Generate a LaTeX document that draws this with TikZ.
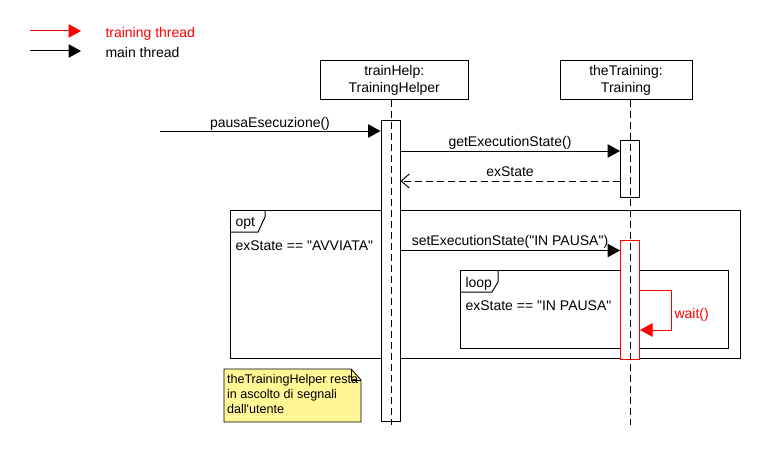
\documentclass[tikz,border=0pt]{standalone}
\usepackage{fontspec}
\setmainfont{Liberation Sans}[Ligatures=TeXOff]
\usetikzlibrary{arrows.meta}
\definecolor{noteyellow}{RGB}{255,247,150}
\begin{document}
\begin{tikzpicture}[x=1pt,y=-1pt,line width=1pt,
  every node/.style={font=\fontsize{14}{17}\selectfont,inner sep=0pt},
  headbox/.style={draw,fill=white,minimum height=39pt,align=center},
  actbar/.style={draw,fill=white,minimum width=19pt,anchor=north},
  framebox/.style={draw,anchor=north west},
  lifeline/.style={dash pattern=on 7pt off 4pt},
  msg/.style={-{Triangle[length=12.5pt,width=13.5pt]}},
  retmsg/.style={dash pattern=on 7pt off 4pt,-{Straight Barb[length=8pt,width=14pt]}},
  lbl/.style={anchor=base},
  lblw/.style={anchor=base west},
  notetext/.style={anchor=north west,align=left,font=\fontsize{12.6}{15}\selectfont}
]
\useasboundingbox (0,0) rectangle (760,460);
\fill[white] (0,0) rectangle (760,460);

% legend
\coordinate (lgr0) at (30,31);
\coordinate (lgr1) at (81,31);
\draw[red,msg] (lgr0) -- (lgr1);
\node[lblw,red] (lgrt) at (105,37.5) {training thread};
\coordinate (lgb0) at (30,51);
\coordinate (lgb1) at (81,51);
\draw[msg] (lgb0) -- (lgb1);
\node[lblw] (lgbt) at (105,57.5) {main thread};

% heads
\node[headbox,minimum width=147.5pt] (th) at (394.25,80) {trainHelp:\\TrainingHelper};
\node[headbox,minimum width=132pt] (tt) at (626,80) {theTraining:\\Training};

% frames
\node[framebox,minimum width=510pt,minimum height=148pt] (optf) at (230,210) {};
\draw (optf.north west |- 0,232) -- (258,232) -- (265,217) -- (265,210);
\node[lblw] (optl) at (235,226.5) {opt};
\node[lblw] (optg) at (235,250.5) {exState == "AVVIATA"};

\node[framebox,minimum width=268pt,minimum height=78pt] (loopf) at (460,270) {};
\draw (loopf.north west |- 0,292) -- (492,292) -- (498,282) -- (498,270);
\node[lblw] (loopl) at (465,287) {loop};
\node[lblw] (loopg) at (465,310) {exState == "IN PAUSA"};

% activation bars
\node[actbar,minimum height=301pt] (a1) at (390.5,120) {};
\node[actbar,minimum height=57pt] (a2) at (630,140) {};
\node[actbar,draw=red,minimum height=119pt] (a3) at (630,240) {};

% lifelines
\coordinate (l1end) at (391,425);
\draw[lifeline] (l1end |- th.south) -- (l1end);
\coordinate (l2end) at (630.5,425);
\draw[lifeline] (l2end |- tt.south) -- (l2end);

% messages
\coordinate (pstart) at (160,131);
\draw[msg] (pstart) -- (pstart -| a1.west);
\node[lbl] (pl) at (270,127) {pausaEsecuzione()};

\coordinate (ygex) at (0,151);
\draw[msg] (a1.east |- ygex) -- (a2.west |- ygex);
\node[lbl] (gl) at (510,146) {getExecutionState()};

\coordinate (yret) at (0,181);
\draw[retmsg] (a2.west |- yret) -- (a1.east |- yret);
\node[lbl] (rl) at (510,176.5) {exState};

\coordinate (yset) at (0,250.5);
\draw[msg] (a1.east |- yset) -- (a3.west |- yset);
\node[lbl] (sl) at (510,245.5) {setExecutionState("IN PAUSA")};

% self message wait()
\coordinate (yw0) at (0,290);
\coordinate (wcorner) at (671,330);
\draw[red,msg] (a3.east |- yw0) -| (wcorner) -- (a3.east |- wcorner);
\node[lblw,red] (wl) at (674,318.5) {wait()};

% note
\fill[noteyellow] (224,369) -- (351,369) -- (361,380) -- (361,422) -- (224,422) -- cycle;
\draw[line width=0.8pt] (224,369) -- (351,369) -- (361,380) -- (361,422) -- (224,422) -- cycle;
\draw[line width=0.8pt] (351,369) -- (351,380) -- (361,380);
\node[notetext] (nt) at (226.5,373.5) {theTrainingHelper resta\\in ascolto di segnali\\dall'utente};
\end{tikzpicture}
\end{document}
